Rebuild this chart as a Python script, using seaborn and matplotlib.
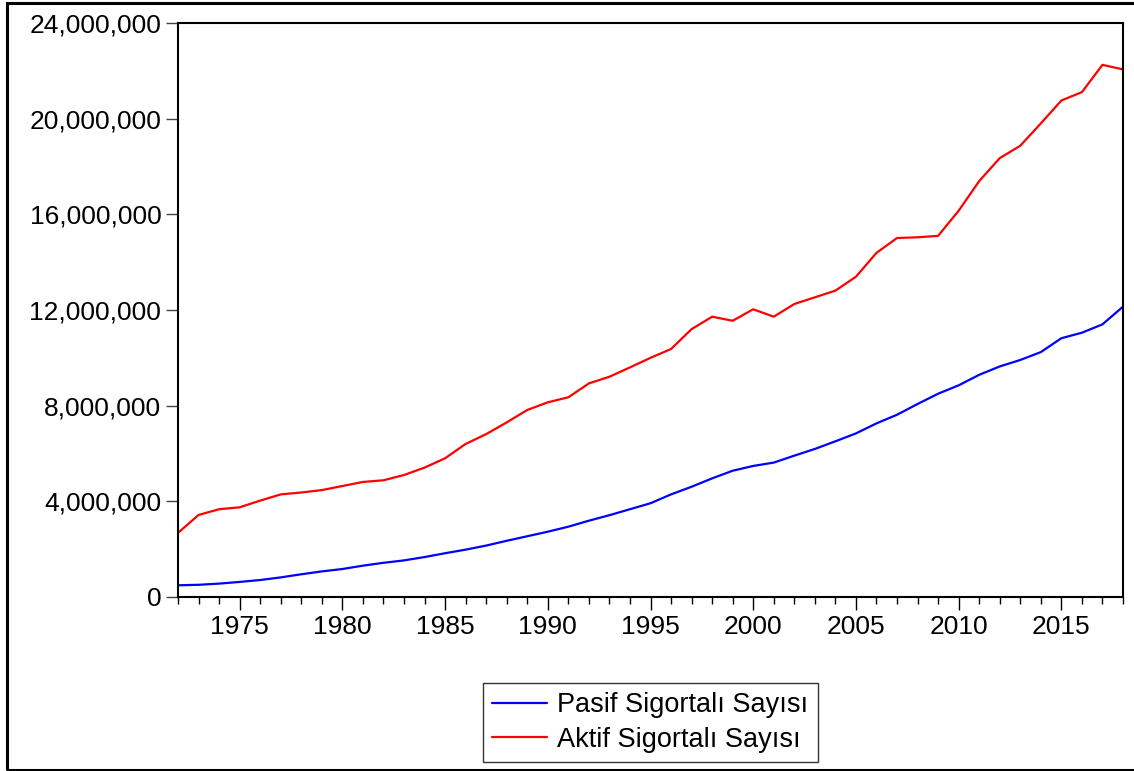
import matplotlib
matplotlib.use("Agg")
import matplotlib.pyplot as plt
import matplotlib.ticker as mticker
from matplotlib.patches import Rectangle
import seaborn as sns
import pandas as pd

# Yillar ve sigortali sayilari (grafikten okunan yaklasik degerler)
years = list(range(1972, 2019))

pasif = [0.49, 0.51, 0.56, 0.63, 0.71, 0.82, 0.95, 1.07, 1.17, 1.31,
         1.43, 1.53, 1.67, 1.83, 1.98, 2.15, 2.35, 2.54, 2.73, 2.94,
         3.19, 3.42, 3.67, 3.92, 4.29, 4.61, 4.96, 5.28, 5.48, 5.62,
         5.91, 6.19, 6.51, 6.84, 7.26, 7.62, 8.07, 8.50, 8.85, 9.29,
         9.64, 9.91, 10.24, 10.82, 11.05, 11.40, 12.14]

aktif = [2.68, 3.43, 3.67, 3.75, 4.03, 4.29, 4.37, 4.47, 4.64, 4.81,
         4.88, 5.10, 5.41, 5.80, 6.40, 6.81, 7.30, 7.82, 8.14, 8.35,
         8.93, 9.21, 9.60, 10.00, 10.37, 11.20, 11.72, 11.55, 12.03, 11.72,
         12.25, 12.53, 12.81, 13.39, 14.39, 15.01, 15.04, 15.10, 16.15, 17.39,
         18.35, 18.87, 19.80, 20.76, 21.11, 22.25, 22.06]

series_names = ['Pasif Sigortalı Sayısı', 'Aktif Sigortalı Sayısı']
series_colors = ['#0000ff', '#ff0000']

# long-form tablo
df = pd.DataFrame({
    'yil': years * 2,
    'deger': [v * 1e6 for v in pasif] + [v * 1e6 for v in aktif],
    'seri': [series_names[0]] * len(years) + [series_names[1]] * len(years),
})

sns.set_style("ticks")
plt.rcParams['font.family'] = ['Liberation Sans', 'DejaVu Sans']
plt.rcParams['text.color'] = 'black'
plt.rcParams['xtick.color'] = 'black'
plt.rcParams['ytick.color'] = 'black'

W, H = 1134, 771
fig = plt.figure(figsize=(W / 100, H / 100), dpi=100)
ax = fig.add_axes([178 / W, 1 - 597 / H, 945 / W, 574 / H])

sns.lineplot(data=df, x='yil', y='deger', hue='seri',
             hue_order=series_names, palette=series_colors,
             linewidth=1.6, ax=ax)

ax.set_xlim(1972, 2018)
ax.set_ylim(0, 24e6)
ax.set_xlabel('')
ax.set_ylabel('')

ax.xaxis.set_major_locator(mticker.MultipleLocator(5))
ax.xaxis.set_minor_locator(mticker.MultipleLocator(1))
ax.yaxis.set_major_locator(mticker.MultipleLocator(4e6))
ax.yaxis.set_major_formatter(mticker.FuncFormatter(lambda v, p: f'{v:,.0f}'))

ax.tick_params(axis='x', which='major', length=9, width=1, labelsize=19,
               pad=4, color='black', labelcolor='black')
ax.tick_params(axis='x', which='minor', length=5, width=1, color='black')
ax.tick_params(axis='y', which='major', length=8.5, width=1, labelsize=19,
               pad=3.5, color='#444444', labelcolor='black')

for s in ax.spines.values():
    s.set_visible(True)
    s.set_linewidth(1.5)
    s.set_color('black')

leg = ax.legend(loc='upper center', bbox_to_anchor=(0.5, (597 - 683) / 574),
                frameon=True, fancybox=False, fontsize=19.5,
                handlelength=2.0, handletextpad=0.4, borderpad=0.35,
                labelspacing=0.3, borderaxespad=0)
leg.get_frame().set_edgecolor('black')
leg.get_frame().set_linewidth(1.0)
for line in leg.get_lines():
    line.set_linewidth(1.6)
for t in leg.get_texts():
    t.set_color('black')

# dis cerceve
fig.patches.append(Rectangle((7 / W, 1.5 / H), (1140 - 7) / W, (769 - 2) / H,
                             transform=fig.transFigure, fill=False,
                             edgecolor='black', linewidth=2.2))

fig.savefig('out.png', dpi=100)
